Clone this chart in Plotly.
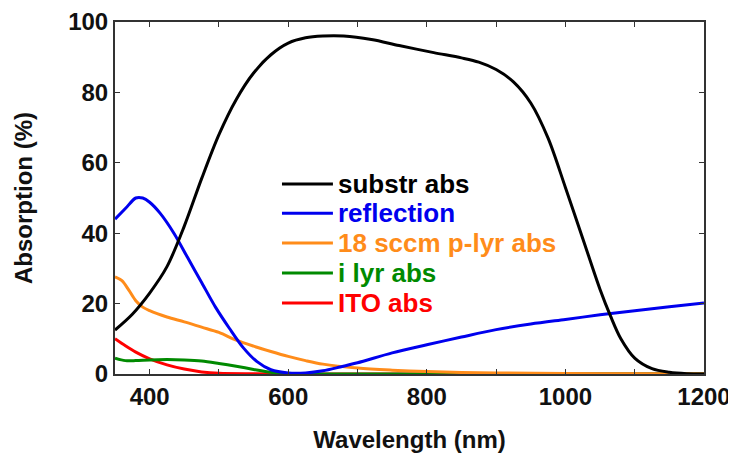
import plotly.graph_objects as go

# Wavelength (nm) and values (%)
substr_x = [350, 375, 400, 425, 450, 475, 500, 525, 550, 575, 600, 625, 650, 680, 720, 760, 810, 850, 875, 900, 925, 950, 975, 1000, 1025, 1050, 1065, 1080, 1100, 1125, 1150, 1175, 1200]
substr_y = [12.5, 17, 23, 30.5, 42, 55.5, 68, 78, 85.5, 90.7, 94, 95.5, 96, 96, 95, 93.3, 91.3, 89.8, 88.6, 86.5, 83, 77, 67, 53, 38.5, 24, 16.5, 10, 4.5, 1.5, 0.5, 0.1, 0.0]

refl_x = [350, 365, 380, 390, 400, 415, 435, 455, 475, 495, 515, 535, 555, 575, 600, 625, 650, 675, 700, 750, 800, 850, 900, 950, 1000, 1050, 1100, 1150, 1200]
refl_y = [44, 47, 50, 50, 48.8, 45.7, 40, 33, 26, 19, 13, 7.5, 3.5, 1.2, 0.3, 0.3, 0.9, 2, 3.2, 6, 8.3, 10.5, 12.6, 14.2, 15.5, 16.8, 18, 19.1, 20.2]

p_x = [350, 360, 370, 380, 390, 400, 425, 450, 475, 500, 525, 550, 575, 600, 625, 650, 700, 750, 800, 850, 900, 1000, 1100, 1200]
p_y = [27.6, 26.5, 23.8, 20.8, 19, 18, 16.2, 14.8, 13.3, 11.8, 9.6, 7.9, 6.4, 5, 3.8, 2.8, 1.7, 1.1, 0.7, 0.45, 0.3, 0.15, 0.05, 0.0]

i_x = [350, 365, 380, 400, 425, 450, 475, 500, 525, 550, 575, 600, 650, 800, 1000, 1200]
i_y = [4.5, 3.8, 3.8, 4.0, 4.1, 4.0, 3.7, 3.0, 2.2, 1.3, 0.5, 0.1, 0.0, 0.0, 0.0, 0.0]

ito_x = [350, 365, 380, 400, 425, 450, 475, 500, 550, 600, 800, 1000, 1200]
ito_y = [10, 8, 6.2, 4.3, 2.6, 1.4, 0.6, 0.2, 0.05, 0.0, 0.0, 0.0, 0.0]

series = [
    ("substr abs", substr_x, substr_y, "#000000"),
    ("reflection", refl_x, refl_y, "#0000ee"),
    ("18 sccm p-lyr abs", p_x, p_y, "#ff8c1a"),
    ("i lyr abs", i_x, i_y, "#008a00"),
    ("ITO abs", ito_x, ito_y, "#ff0000"),
]

x_tickvals = [400, 500, 600, 700, 800, 900, 1000, 1100, 1200]
x_ticktext = ["400", "", "600", "", "800", "", "1000", "", "1200"]
y_tickvals = [0, 20, 40, 60, 80, 100]

font_fam = "Liberation Sans, Arial, sans-serif"

fig = go.Figure()
# draw in reverse so that black is on top
for name, xs, ys, col in series[::-1]:
    fig.add_trace(go.Scatter(
        x=xs, y=ys, mode="lines",
        line=dict(color=col, width=3, shape="spline", smoothing=0.9),
        name=name, showlegend=False,
    ))

# legend drawn as line samples + coloured labels
leg_x0, leg_x1, leg_tx = 0.2835, 0.370, 0.3760
leg_y = [0.540, 0.457, 0.372, 0.287, 0.202]
for (name, xs, ys, col), yy in zip(series, leg_y):
    fig.add_shape(type="line", xref="paper", yref="paper",
                  x0=leg_x0, x1=leg_x1, y0=yy, y1=yy,
                  line=dict(color=col, width=3))
    fig.add_annotation(xref="paper", yref="paper", x=leg_tx, y=yy,
                       xanchor="left", yanchor="middle", showarrow=False,
                       text=f"<b>{name}</b>",
                       font=dict(family=font_fam, size=26, color=col))

# page body has an 8px margin, so the figure is sized to fit the window
fig.update_layout(
    width=728, height=452,
    margin=dict(l=107, r=32, t=14, b=86),
    paper_bgcolor="white", plot_bgcolor="white",
    font=dict(family=font_fam, size=24, color="#111111"),
    showlegend=False,
    xaxis=dict(range=[350, 1200], tickvals=x_tickvals, ticktext=x_ticktext,
               ticks="inside", ticklen=5, tickcolor="#333", tickwidth=1,
               showline=True, linecolor="#333", linewidth=2, mirror="allticks",
               showgrid=False, zeroline=False, automargin=False,
               tickfont=dict(family=font_fam, size=24, weight="bold"),
               title=dict(text="<b>Wavelength (nm)</b>", font=dict(size=24), standoff=22)),
    yaxis=dict(range=[0, 100], tickvals=y_tickvals, ticksuffix="\u2009",
               ticks="inside", ticklen=5, tickcolor="#333", tickwidth=1,
               showline=True, linecolor="#333", linewidth=2, mirror="allticks",
               showgrid=False, zeroline=False, automargin=False,
               tickfont=dict(family=font_fam, size=24, weight="bold"),
               title=dict(text="<b>Absorption (%)</b>", font=dict(size=24), standoff=29)),
)

fig.write_html("out.html")
